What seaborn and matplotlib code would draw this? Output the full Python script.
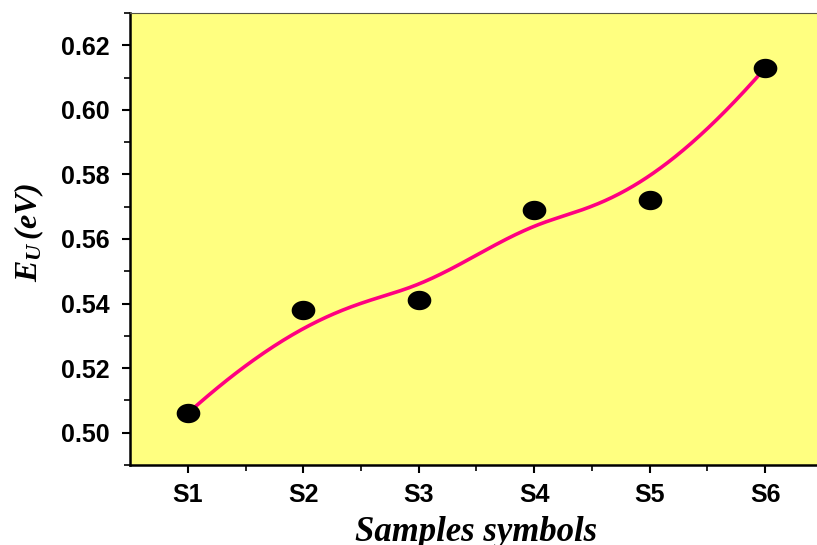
import numpy as np
import pandas as pd
import matplotlib
matplotlib.use("Agg")
import matplotlib.pyplot as plt
from matplotlib.path import Path
import seaborn as sns

# Urbach energy per sample
samples = ["S1", "S2", "S3", "S4", "S5", "S6"]
eu_values = [0.506, 0.538, 0.541, 0.569, 0.572, 0.613]

y_ticks = [0.50, 0.52, 0.54, 0.56, 0.58, 0.60, 0.62]


def bspline_curve(xs, ys, degree=3, n=400):
    """Clamped uniform B-spline using the data points as control points."""
    pts = np.column_stack([xs, ys]).astype(float)
    m = len(pts)
    inner = np.arange(1, m - degree)
    knots = np.concatenate([np.zeros(degree + 1), inner, np.full(degree + 1, m - degree)]).astype(float)
    t = np.linspace(0, m - degree, n)
    t[-1] -= 1e-9

    def basis(i, k, tt):
        if k == 0:
            return ((knots[i] <= tt) & (tt < knots[i + 1])).astype(float)
        out = np.zeros_like(tt)
        d1 = knots[i + k] - knots[i]
        d2 = knots[i + k + 1] - knots[i + 1]
        if d1 > 0:
            out += (tt - knots[i]) / d1 * basis(i, k - 1, tt)
        if d2 > 0:
            out += (knots[i + k + 1] - tt) / d2 * basis(i + 1, k - 1, tt)
        return out

    B = np.column_stack([basis(i, degree, t) for i in range(m)])
    curve = B @ pts
    return curve[:, 0], curve[:, 1]


sns.set_theme(style="ticks")
plt.rcParams["font.family"] = ["Liberation Sans", "DejaVu Sans"]
plt.rcParams["mathtext.fontset"] = "custom"
plt.rcParams["mathtext.it"] = "Liberation Serif:italic"
plt.rcParams["mathtext.rm"] = "Liberation Serif"
plt.rcParams["mathtext.bf"] = "Liberation Serif:italic:bold"
plt.rcParams["text.color"] = "black"
plt.rcParams["xtick.color"] = "black"
plt.rcParams["ytick.color"] = "black"
plt.rcParams["axes.labelcolor"] = "black"

fig = plt.figure(figsize=(8.17, 5.45), dpi=100)
ax = fig.add_axes([130 / 817, 80 / 545, 693 / 817, 452 / 545])
ax.set_facecolor("#FFFF80")

xpos = np.arange(len(samples))
cx, cy = bspline_curve(xpos, eu_values)
curve_df = pd.DataFrame({"x": cx, "y": cy})
pts_df = pd.DataFrame({"x": xpos, "y": eu_values})

sns.lineplot(data=curve_df, x="x", y="y", sort=False, color="#FF0080",
             linewidth=2.6, ax=ax, zorder=2)

theta = np.linspace(0, 2 * np.pi, 60)
ellipse = Path(np.column_stack([np.cos(theta), 0.82 * np.sin(theta)]), closed=True)
sns.scatterplot(data=pts_df, x="x", y="y", marker=ellipse, s=290, color="black",
                edgecolor="black", linewidth=0, ax=ax, zorder=3)

ax.set_xlim(-0.5, 5.5)
ax.set_ylim(0.49, 0.63)
ax.set_xticks(xpos)
ax.set_xticklabels(samples)
ax.set_xticks(xpos[:-1] + 0.5, minor=True)
ax.set_yticks(y_ticks)
ax.set_yticklabels([f"{v:.2f}" for v in y_ticks])
ax.set_yticks(np.arange(0.49, 0.6301, 0.01), minor=True)

for lab in ax.get_xticklabels() + ax.get_yticklabels():
    lab.set_fontweight("bold")
    lab.set_fontsize(18)
    lab.set_color("black")

ax.tick_params(axis="both", which="major", direction="out", length=6, width=1.5,
               color="black")
ax.tick_params(axis="y", which="major", pad=9)
ax.tick_params(axis="x", which="major", pad=7)
ax.tick_params(axis="both", which="minor", direction="out", length=4, width=1.2,
               color="black")

for side in ["left", "bottom"]:
    ax.spines[side].set_linewidth(1.8)
    ax.spines[side].set_color("black")
ax.spines["top"].set_linewidth(0.8)
ax.spines["top"].set_color("#555544")
ax.spines["right"].set_visible(False)

ax.set_xlabel("Samples symbols", fontsize=25, fontweight="bold", fontstyle="italic",
              family=["Liberation Serif"], color="black")
ax.xaxis.set_label_coords(0.5, -0.112)
ax.set_ylabel(r"$\mathbf{E_U\,(eV)}$", fontsize=23, color="black")
ax.yaxis.set_label_coords(-0.121, 0.515)

fig.savefig("out.png", dpi=100)
